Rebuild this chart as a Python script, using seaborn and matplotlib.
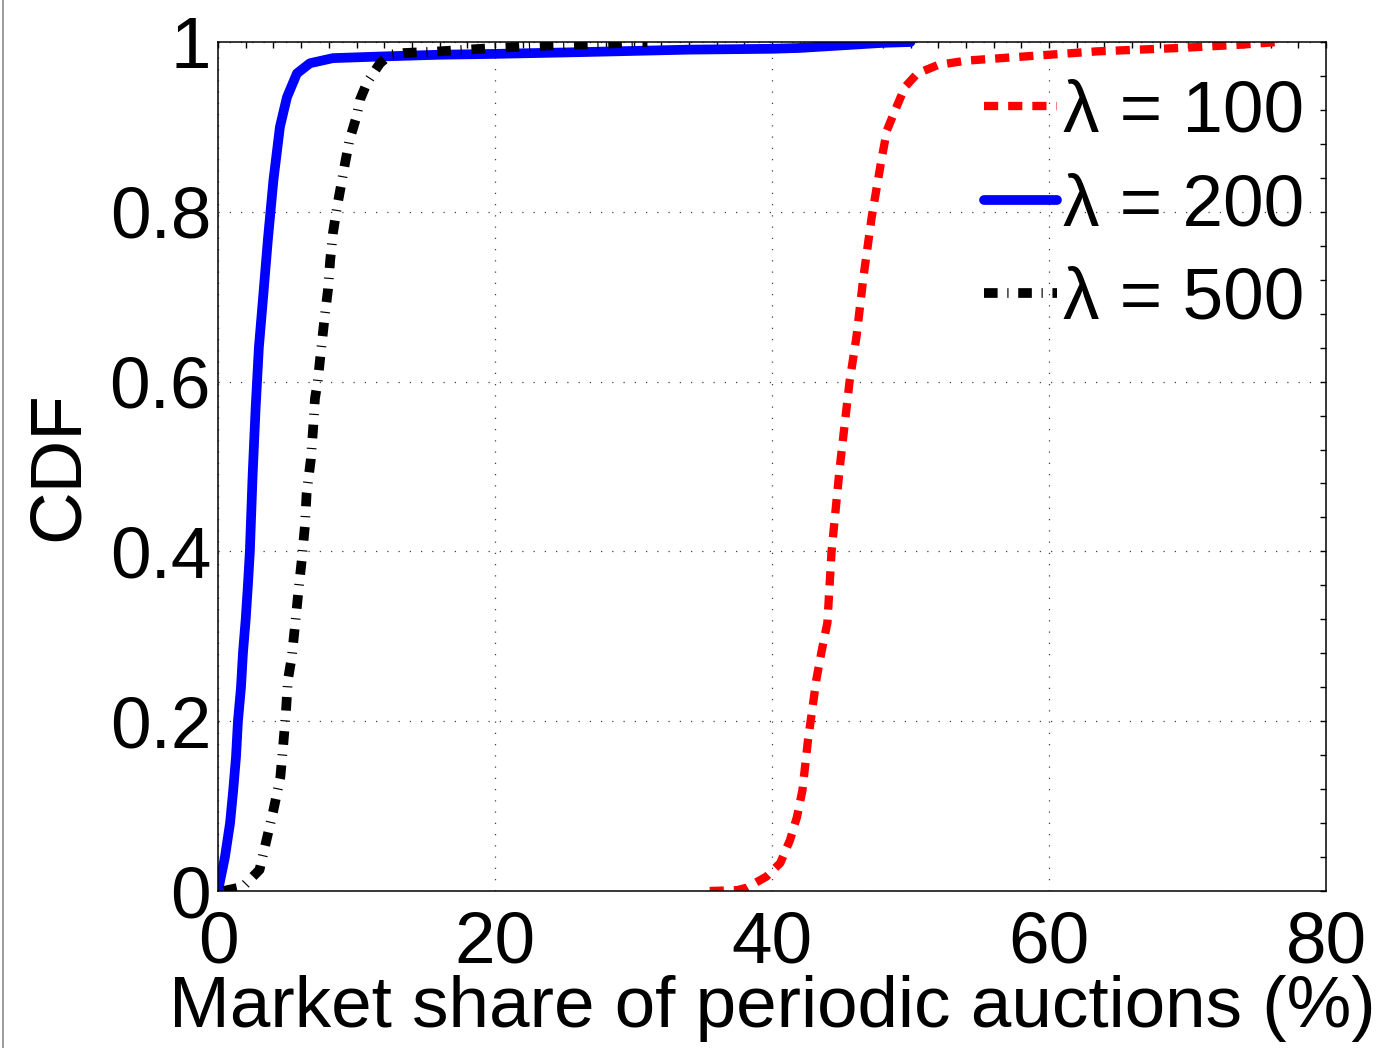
import matplotlib
matplotlib.use("Agg")
import matplotlib.pyplot as plt
from matplotlib.ticker import MultipleLocator, FuncFormatter
from matplotlib.lines import Line2D
import pandas as pd
import seaborn as sns

# Series names (batch interval lambda)
lambdas = ["λ = 100", "λ = 200", "λ = 500"]

# lambda = 100: market share (%) and empirical CDF
share_100 = [35.5, 37.5, 38.2, 39.6, 40.6, 41.3, 41.8, 42.2, 42.6, 42.9, 43.2,
             43.6, 44.0, 44.3, 44.9, 45.6, 46.1, 46.6, 47.2, 47.9, 48.3, 48.9,
             49.6, 50.5, 52.0, 54.0, 57.4, 63.5, 69.5, 74.0, 76.5]
cdf_100 = [0.0, 0.001, 0.004, 0.017, 0.033, 0.06, 0.087, 0.119, 0.178, 0.213,
           0.249, 0.284, 0.316, 0.4, 0.5, 0.6, 0.653, 0.723, 0.794, 0.861,
           0.896, 0.92, 0.947, 0.963, 0.973, 0.978, 0.982, 0.989, 0.993,
           0.997, 1.0]

# lambda = 200
share_200 = [0.0, 0.5, 0.87, 1.1, 1.3, 1.44, 1.66, 1.8, 2.0, 2.17, 2.3, 2.5,
             2.72, 2.95, 3.26, 3.6, 4.0, 4.47, 4.98, 5.7, 6.64, 8.3, 11.9, 16.0,
             20.0, 26.0, 34.0, 40.0, 42.0, 44.0, 46.0, 48.0, 50.0]
cdf_200 = [0.0, 0.04, 0.08, 0.119, 0.158, 0.2, 0.24, 0.28, 0.32, 0.363, 0.4,
           0.49, 0.57, 0.64, 0.70, 0.767, 0.837, 0.90, 0.935, 0.963, 0.975,
           0.981, 0.983, 0.985, 0.986, 0.988, 0.991, 0.992, 0.993, 0.995,
           0.997, 0.999, 1.0]

# lambda = 500
share_500 = [0.4, 1.8, 3.0, 3.5, 4.0, 4.5, 4.7, 4.9, 5.05, 5.33, 5.55, 5.8,
             6.06, 6.28, 6.4, 6.7, 6.86, 7.0, 7.2, 7.36, 7.7, 7.94, 8.1, 8.3,
             8.6, 8.95, 9.17, 9.5, 10.0, 10.25, 10.76, 11.2, 11.7, 12.4, 13.4,
             16.0, 18.0, 20.0, 24.0, 28.0, 31.0]
cdf_500 = [0.0, 0.005, 0.025, 0.06, 0.095, 0.134, 0.17, 0.21, 0.249, 0.276,
           0.311, 0.352, 0.392, 0.431, 0.469, 0.508, 0.543, 0.58, 0.60, 0.625,
           0.676, 0.708, 0.743, 0.775, 0.806, 0.837, 0.857, 0.885, 0.912,
           0.932, 0.952, 0.963, 0.975, 0.985, 0.987, 0.989, 0.991, 0.993,
           0.996, 0.998, 1.0]

sns.set_theme(style="white")
plt.rcParams["font.family"] = ["Liberation Sans", "DejaVu Sans"]
plt.rcParams["axes.unicode_minus"] = False
for key in ("text.color", "axes.labelcolor", "xtick.color", "ytick.color",
            "axes.edgecolor"):
    plt.rcParams[key] = "black"

frames = []
for name, xs, ys in zip(lambdas, [share_100, share_200, share_500],
                        [cdf_100, cdf_200, cdf_500]):
    frames.append(pd.DataFrame({"share": xs, "cdf": ys, "lam": name}))
df = pd.concat(frames, ignore_index=True)

W, H = 1379, 1048
fig = plt.figure(figsize=(W / 100, H / 100), dpi=100)
ax = fig.add_axes([218 / W, 1 - 891 / H, (1326 - 218) / W, (891 - 42) / H])

palette = {lambdas[0]: "#ff0000", lambdas[1]: "#0000ff", lambdas[2]: "#000000"}
dash_map = {lambdas[0]: (1.7, 1.2), lambdas[1]: "", lambdas[2]: (1.4, 1.0, 0.12, 1.0)}
widths = {lambdas[0]: 6.0, lambdas[1]: 7.0, lambdas[2]: 7.0}

sns.lineplot(data=df, x="share", y="cdf", hue="lam", style="lam",
             hue_order=lambdas, style_order=lambdas, palette=palette,
             dashes=dash_map, estimator=None, sort=False, linewidth=6.0, ax=ax)

for line, name in zip(ax.lines, lambdas):
    line.set_linewidth(widths[name])

handles, labels = ax.get_legend_handles_labels()
for h, lab in zip(handles, labels):
    h.set_linewidth(widths.get(lab, 6.0))

FS = 52.5
ax.legend(handles, labels, loc="upper right",
          bbox_to_anchor=(1304 / W, 1 - 80 / H), bbox_transform=fig.transFigure,
          frameon=False, fontsize=FS, handlelength=1.0, handletextpad=0.08,
          labelspacing=0.36, borderpad=0, borderaxespad=0)

ax.set_xlim(0, 80)
ax.set_ylim(0, 1)
ax.xaxis.set_major_locator(MultipleLocator(20))
ax.xaxis.set_minor_locator(MultipleLocator(2))
ax.yaxis.set_major_locator(MultipleLocator(0.2))
ax.yaxis.set_minor_locator(MultipleLocator(0.04))
fmt = FuncFormatter(lambda v, p: f"{v:g}")
ax.xaxis.set_major_formatter(fmt)
ax.yaxis.set_major_formatter(fmt)

ax.tick_params(which="both", direction="in", top=True, right=True,
               length=4, width=1, color="black")
ax.tick_params(axis="x", which="major", labelsize=FS, pad=14)
ax.tick_params(axis="y", which="major", labelsize=FS, pad=5)

for sp in ax.spines.values():
    sp.set_visible(True)
    sp.set_color("black")
    sp.set_linewidth(1.1)

ax.set_axisbelow(True)
ax.grid(True, which="major", linestyle=(0, (1, 8)), color="#404040", linewidth=0.9)

ax.set_xlabel("Market share of periodic auctions (%)", fontsize=FS, labelpad=-2)
ax.set_ylabel("CDF", fontsize=FS, labelpad=12)

# thin grey frame edge at the left of the canvas
fig.add_artist(Line2D([2.5 / W, 2.5 / W], [0, 1], color="#8a8a8a", linewidth=1.2,
                      transform=fig.transFigure))

fig.savefig("out.png", dpi=100, facecolor="white")
